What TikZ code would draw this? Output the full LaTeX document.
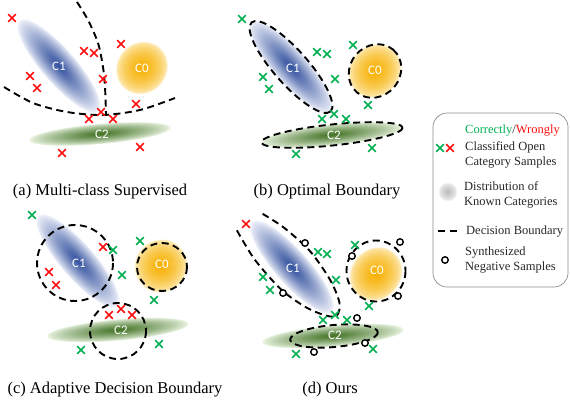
\documentclass[tikz,border=0pt]{standalone}
\usepackage{fontspec}
\setmainfont{Liberation Serif}
\newfontfamily\calib{Carlito}
\usetikzlibrary{shapes.misc}
\definecolor{okgreen}{HTML}{00B050}
\definecolor{bad}{HTML}{FF1010}
\definecolor{bluein}{HTML}{34529F}
\definecolor{blueout}{HTML}{EEF1FA}
\definecolor{yelin}{HTML}{F6B000}
\definecolor{yelout}{HTML}{FFF3D0}
\definecolor{grnin}{HTML}{467529}
\definecolor{grnout}{HTML}{E8F3E0}
\definecolor{grayin}{HTML}{BDBDBD}
\definecolor{grayout}{HTML}{F2F2F2}
% soft blob: #1 inner colour, #2 outer colour, #3 x, #4 y, #5 angle, #6 a, #7 b, #8 exponent
\newcommand\myblob[8]{%
  \begin{scope}[shift={(#3,#4)}, rotate=#5]
    \foreach \k in {0,...,29}{%
      \pgfmathsetmacro\f{1-\k/30}%
      \pgfmathsetmacro\m{100*(\k/29)^(#8)}%
      \fill[#1!\m!#2] (0,0) ellipse [x radius={\f*#6}, y radius={\f*#7}];
    }
  \end{scope}}
\begin{document}
\begin{tikzpicture}[x=1pt,y=-1pt,
  gx/.style={cross out, draw=okgreen, line width=1.7pt, minimum size=6pt, inner sep=0pt},
  rx/.style={cross out, draw=bad, line width=1.7pt, minimum size=6pt, inner sep=0pt},
  bnd/.style={draw=black, line width=1.9pt, dash pattern=on 7pt off 4.5pt},
  neg/.style={circle, draw=black, line width=1.4pt, fill=white, minimum size=6.5pt, inner sep=0pt},
  clab/.style={text=white, font=\calib\fontsize{13}{13}\selectfont, inner sep=0pt},
  captxt/.style={font=\fontsize{16.5}{18}\selectfont, inner sep=0pt},
  leg/.style={font=\fontsize{12.5}{15}\selectfont, align=left, inner sep=0pt, anchor=west, text=black!85}]
\useasboundingbox (0,0) rectangle (570,402);

% ---------- (a) ----------
\myblob{bluein}{blueout}{59}{66}{-49}{60}{17}{0.85}
\myblob{yelin}{yelout}{142}{68}{50}{27}{25}{0.55}
\myblob{grnin}{grnout}{100}{134}{5}{71}{10}{0.8}
\node[clab] (a-c1) at (59,66) {C1};
\node[clab] (a-c0) at (142,68) {C0};
\node[clab] (a-c2) at (102,134) {C2};
\draw[bnd] plot[smooth] coordinates {(77,2) (88,20) (98,43) (103,67) (105,87) (106,114)};
\draw[bnd] plot[smooth] coordinates {(4,87) (33,103) (67,112) (103,115) (140,110) (175,98)};
\foreach \p [count=\i] in {(12,18),(84,51),(94,53),(121,44),(30,76),(37,88),(103,79),(136,104),(101,112),(89,119),(113,119),(140,147),(62,153)}
  \node[rx] (a-x\i) at \p {};

% ---------- (b) ----------
\myblob{bluein}{blueout}{291}{67}{-48.5}{60}{17}{0.85}
\myblob{yelin}{yelout}{375}{71}{50}{28}{25}{0.55}
\myblob{grnin}{grnout}{332}{135}{6}{71}{10.5}{0.8}
\node[clab] (b-c1) at (293,68) {C1};
\node[clab] (b-c0) at (375,70) {C0};
\node[clab] (b-c2) at (334,135) {C2};
\draw[bnd, rotate around={-48.5:(291,67)}] (291,67) ellipse [x radius=59.5, y radius=17];
\draw[bnd, rotate around={50:(375,71)}] (375,71) ellipse [x radius=28, y radius=25];
\draw[bnd, rotate around={6:(332,135)}] (332,135) ellipse [x radius=71, y radius=10.5];
\foreach \p [count=\i] in {(242,19),(353,45),(317,52),(327,54),(263,77),(335,79),(269,89),(368,105),(334,114),(322,119),(346,119),(372,148),(296,154)}
  \node[gx] (b-x\i) at \p {};

% ---------- (c) ----------
\myblob{bluein}{blueout}{78}{261}{-49}{60}{17}{0.85}
\myblob{yelin}{yelout}{161}{266}{50}{27}{26}{0.55}
\myblob{grnin}{grnout}{118}{330}{5}{71}{10.5}{0.8}
\node[clab] (c-c1) at (79,263) {C1};
\node[clab] (c-c0) at (162,264) {C0};
\node[clab] (c-c2) at (121,330) {C2};
\draw[bnd] (75,263) circle [radius=38];
\draw[bnd] (162,267) ellipse [x radius=25, y radius=24];
\draw[bnd] (118,331) circle [radius=28];
\foreach \p [count=\i] in {(32,215),(140,241),(113,250),(122,275),(154,300),(159,344),(81,350)}
  \node[gx] (c-g\i) at \p {};
\foreach \p [count=\i] in {(103,247),(49,272),(56,285),(109,315),(121,309),(132,315)}
  \node[rx] (c-r\i) at \p {};

% ---------- (d) ----------
\myblob{bluein}{blueout}{292}{267}{-48.5}{60}{17}{0.85}
\myblob{yelin}{yelout}{376}{274}{50}{28}{25}{0.55}
\myblob{grnin}{grnout}{333}{336}{5}{71}{10.5}{0.8}
\node[clab] (d-c1) at (293,268) {C1};
\node[clab] (d-c0) at (377,270) {C0};
\node[clab] (d-c2) at (335,335) {C2};
\begin{scope}[shift={(292,267)}, rotate=-48.5]
  \draw[bnd] plot[smooth] coordinates {(-64,17) (-30,23) (10,23) (40,16) (60,6) (66,-2) (58,-12) (35,-20) (0,-24) (-35,-20) (-60,-13)};
\end{scope}
\draw[bnd] (376,271) ellipse [x radius=29.5, y radius=30.5];
\draw[bnd, rotate around={5:(334,336)}] (334,336) ellipse [x radius=44, y radius=11];
\foreach \p [count=\i] in {(318,252),(327,254),(263,277),(336,280),(270,290),(335,315),(323,320),(347,320),(369,306),(355,245),(373,349),(296,354)}
  \node[gx] (d-g\i) at \p {};
\node[rx] (d-r1) at (246,224) {};
\foreach \p [count=\i] in {(305,243),(283,293),(352,256),(400,242),(398,296),(357,318),(365,343),(314,352)}
  \node[neg] (d-n\i) at \p {};

% ---------- captions ----------
\node[captxt] (cap-a) at (100,192) {(a) Multi-class Supervised};
\node[captxt] (cap-b) at (327,192) {(b) Optimal Boundary};
\node[captxt] (cap-c) at (115,390) {(c) Adaptive Decision Boundary};
\node[captxt] (cap-d) at (330,390) {(d) Ours};

% ---------- legend ----------
\draw[draw=black!45, line width=0.7pt, rounded corners=14pt] (433,113) rectangle (568,287);
\node[gx] (l-g) at (440,148) {};
\node[rx] (l-r) at (450,148) {};
\node[leg] (l-t1) at (465,131) {\textcolor{okgreen}{Correctly}/\textcolor{bad}{Wrongly}};
\node[leg] (l-t2) at (465,154.5) {Classified Open\\Category Samples};
\myblob{grayin}{grayout}{448}{192}{0}{9}{9}{0.8}
\node[leg] (l-t3) at (464,194.5) {Distribution of\\Known Categories};
\draw[bnd, dash pattern=on 7pt off 5pt] (438,231) -- (457,231);
\node[leg] (l-t4) at (466,232) {Decision Boundary};
\node[neg] (l-n) at (445,260) {};
\node[leg] (l-t5) at (465,260.5) {Synthesized\\Negative Samples};
\end{tikzpicture}
\end{document}
